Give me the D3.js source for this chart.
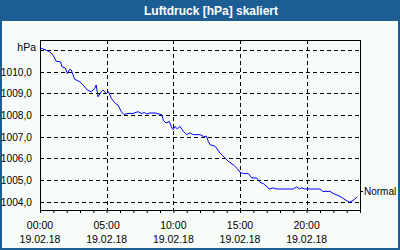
<!DOCTYPE html>
<meta charset="utf-8">
<html lang="de"></html>

<!-- load d3.js -->
<script src="https://d3js.org/d3.v7.min.js"></script>

<style>
    body { margin: 0; background: #ffffff; }
    svg { display: block; }
</style>

<div id="graph"></div>

<script>

    // readings of the day (time, hPa)
    const times = ["00:00","00:28","00:44","00:59","01:13","01:33","01:39","01:54","02:03","02:14",
        "02:21","02:29","02:36","02:59","03:14","03:33","03:51","04:06","04:13","04:21",
        "04:36","04:44","04:58","05:09","05:21","05:39","05:51","06:06","06:18","06:36",
        "06:59","07:21","07:36","07:51","08:00","08:15","08:38","09:08","09:15","09:27",
        "09:42","09:53","10:00","10:08","10:18","10:30","10:45","11:00","11:15","11:30",
        "12:00","12:15","12:30","12:37","12:45","13:08","13:30","13:53","14:07","14:30",
        "14:48","15:00","15:15","15:38","15:53","16:15","16:30","16:45","17:12","17:30",
        "17:45","19:00","19:15","19:27","19:38","19:53","21:00","21:12","21:45","22:00",
        "22:30","22:57","23:12","23:30","23:48"];
    const pressure = [1011.1,1011.0,1010.92,1010.77,1010.49,1010.46,1010.23,1010.18,1009.92,1010.12,
        1010.08,1009.85,1009.66,1009.54,1009.39,1009.16,1009.08,1009.23,1009.39,1008.85,
        1009.08,1009.16,1009.0,1009.08,1008.77,1008.54,1008.47,1008.16,1008.03,1008.08,
        1008.08,1008.16,1008.08,1008.12,1008.06,1008.1,1008.1,1008.02,1007.76,1007.64,
        1007.71,1007.41,1007.33,1007.48,1007.36,1007.48,1007.25,1007.1,1007.18,1007.1,
        1007.1,1007.02,1007.02,1006.79,1006.64,1006.56,1006.25,1006.02,1005.87,1005.71,
        1005.53,1005.36,1005.3,1005.3,1005.1,1005.1,1004.9,1004.84,1004.59,1004.64,
        1004.59,1004.59,1004.69,1004.59,1004.64,1004.59,1004.59,1004.48,1004.48,1004.38,
        1004.25,1004.07,1003.98,1004.07,1004.23];

    // axis labels
    const yTicks = [1004, 1005, 1006, 1007, 1008, 1009, 1010];
    const xTickHours = [0, 5, 10, 15, 20];
    const dateLabel = "19.02.18";
    const normalValue = 1004.52;
    const title = "Luftdruck [hPa] skaliert";

    const W = 400, H = 250;
    const margin = {top: 40, right: 40, bottom: 40, left: 40};
    const blue = "#1c5e93";
    const font = "'Liberation Sans', Arial, sans-serif";

    const day = new Date(2018, 1, 19);
    const parseT = function(s) {
        const p = s.split(":");
        return new Date(2018, 1, 19, +p[0], +p[1]);
    };
    const data = times.map(function(t, i) { return {t: parseT(t), v: pressure[i]}; });

    const x = d3.scaleTime()
        .domain([day, d3.timeDay.offset(day, 1)])
        .range([margin.left, W - margin.right]);
    const y = d3.scaleLinear()
        .domain([1003.62, 1011.47])
        .range([H - margin.bottom, margin.top]);

    const svg = d3.select("#graph")
        .append("svg")
            .attr("width", W)
            .attr("height", H);

    // frame + background
    svg.append("rect")
        .attr("x", 0).attr("y", 0)
        .attr("width", W).attr("height", H)
        .attr("fill", blue);
    svg.append("rect")
        .attr("x", 2).attr("y", 21)
        .attr("width", W - 4).attr("height", H - 23)
        .attr("fill", "#f8fcf8");

    // title
    svg.append("text")
        .text(title)
        .attr("x", 211)
        .attr("y", 15)
        .attr("text-anchor", "middle")
        .attr("fill", "white")
        .style("font-family", font)
        .style("font-weight", "bold")
        .style("font-size", "12px");

    const x0 = margin.left, x1 = W - margin.right;
    const y0 = H - margin.bottom, y1 = margin.top;

    // horizontal grid lines
    svg.append("g")
        .selectAll("line")
        .data(yTicks.concat([1011]))
        .enter()
        .append("line")
            .attr("x1", x0).attr("x2", x1)
            .attr("y1", function(d) { return Math.round(y(d)) + 0.5; })
            .attr("y2", function(d) { return Math.round(y(d)) + 0.5; })
            .attr("stroke", "black")
            .attr("stroke-dasharray", "4,3");

    // vertical grid lines
    svg.append("g")
        .selectAll("line")
        .data(xTickHours.slice(1))
        .enter()
        .append("line")
            .attr("x1", function(d) { return Math.round(x(d3.timeHour.offset(day, d))) + 0.5; })
            .attr("x2", function(d) { return Math.round(x(d3.timeHour.offset(day, d))) + 0.5; })
            .attr("y1", y1).attr("y2", y0)
            .attr("stroke", "black")
            .attr("stroke-dasharray", "4,3");

    // hourly ticks on the bottom axis
    const xAxis = d3.axisBottom(x)
        .ticks(d3.timeHour.every(1))
        .tickSize(3)
        .tickFormat("");
    svg.append("g")
        .attr("transform", "translate(0," + y0 + ")")
        .call(xAxis)
        .call(function(g) { g.select(".domain").remove(); })
        .selectAll("line")
            .attr("stroke", "black");

    // x labels
    const xl = svg.append("g")
        .selectAll("g")
        .data(xTickHours)
        .enter()
        .append("g")
        .attr("transform", function(d) { return "translate(" + x(d3.timeHour.offset(day, d)) + ",0)"; })
        .style("font-family", font)
        .style("font-size", "10.5px")
        .attr("text-anchor", "middle");
    xl.append("text")
        .attr("y", 229)
        .text(function(d) { return d3.timeFormat("%H:%M")(d3.timeHour.offset(day, d)); });
    xl.append("text")
        .attr("y", 243)
        .text(dateLabel);

    // y labels
    svg.append("g")
        .selectAll("text")
        .data(yTicks)
        .enter()
        .append("text")
            .attr("x", 32)
            .attr("y", function(d) { return y(d) + 4; })
            .attr("text-anchor", "end")
            .style("font-family", font)
            .style("font-size", "10.2px")
            .text(function(d) { return d3.format(".1f")(d).replace(".", ","); });
    svg.append("text")
        .attr("x", 36)
        .attr("y", y(1011) + 0.5)
        .attr("text-anchor", "end")
        .style("font-family", font)
        .style("font-size", "10.5px")
        .text("hPa");

    // normal marker
    svg.append("line")
        .attr("x1", x1).attr("x2", x1 + 3)
        .attr("y1", Math.round(y(normalValue)) + 0.5)
        .attr("y2", Math.round(y(normalValue)) + 0.5)
        .attr("stroke", "black");
    svg.append("text")
        .attr("x", x1 + 4)
        .attr("y", y(normalValue) + 4)
        .style("font-family", font)
        .style("font-size", "10px")
        .text("Normal");

    // the pressure line
    const line = d3.line()
        .x(function(d) { return x(d.t); })
        .y(function(d) { return y(d.v); });
    svg.append("path")
        .datum(data)
        .attr("d", line)
        .attr("fill", "none")
        .attr("stroke", "#0000ff")
        .attr("stroke-width", 1);

    // plot frame
    svg.append("rect")
        .attr("x", x0 + 0.5).attr("y", y1 + 0.5)
        .attr("width", x1 - x0).attr("height", y0 - y1)
        .attr("fill", "none")
        .attr("stroke", "black");

</script>
